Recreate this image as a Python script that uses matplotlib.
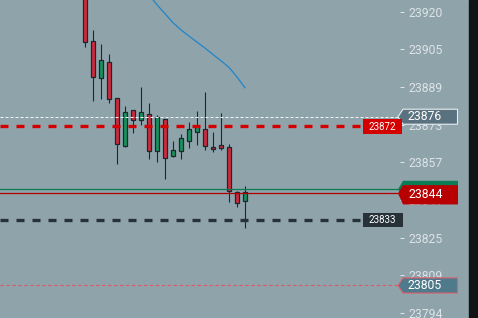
import numpy as np
import matplotlib
matplotlib.use('Agg')
import matplotlib.pyplot as plt
from matplotlib.patches import Polygon
import matplotlib.transforms as mtransforms

plt.rcParams['lines.scale_dashes'] = False
plt.rcParams['font.family'] = ['Roboto', 'DejaVu Sans']

# ---- data ----
opens  = [23935.0, 23907.6, 23892.4, 23898.8, 23883.8, 23863.7, 23878.8, 23874.6, 23877.1, 23861.6, 23875.0,
          23859.5, 23861.6, 23865.8, 23869.6, 23870.8, 23863.3, 23864.1, 23863.3, 23844.5, 23840.7]
highs  = [23937.0, 23912.3, 23906.5, 23902.3, 23884.0, 23880.6, 23879.0, 23888.4, 23881.8, 23876.8, 23875.2,
          23865.9, 23868.7, 23873.9, 23878.5, 23886.4, 23869.6, 23877.6, 23864.5, 23844.9, 23847.1]
lows   = [23905.4, 23882.8, 23883.6, 23881.9, 23856.2, 23863.5, 23869.1, 23872.6, 23858.3, 23857.0, 23850.2,
          23859.1, 23858.3, 23863.1, 23864.1, 23862.0, 23861.2, 23862.0, 23840.3, 23838.2, 23829.4]
closes = [23907.2, 23892.6, 23899.7, 23883.4, 23864.5, 23877.9, 23874.6, 23877.9, 23861.6, 23875.8, 23858.7,
          23862.0, 23867.1, 23870.8, 23872.1, 23863.7, 23862.5, 23862.9, 23844.9, 23839.9, 23844.5]
ma_values = [np.nan] * 8 + [23927.0, 23922.9, 23919.2, 23915.4, 23912.4, 23909.8, 23907.3,
                            23904.8, 23902.1, 23899.5, 23896.7, 23892.7, 23888.2]

tick_values = [23920.0, 23904.25, 23888.5, 23872.75, 23857.0, 23841.25, 23825.5, 23809.75, 23794.0]
tick_labels = ['23920', '23905', '23889', '23873', '23857', '23841', '23825', '23809', '23794']

bid_price = 23844.0
ask_price = 23845.7
white_level = 23876.0
red_level = 23872.0
dark_level = 23833.0
low_level = 23805.5

# ---- figure ----
W, H = 478, 318
bg = '#8fa3ab'
fig = plt.figure(figsize=(W / 100, H / 100), dpi=100, facecolor=bg)
AX_RIGHT = 400
ax = fig.add_axes([0, 0, AX_RIGHT / W, 1])
ax.set_facecolor(bg)
for s in ax.spines.values():
    s.set_visible(False)

X0_PX, STEP_PX = 85, 8
ax.set_xlim(-X0_PX / STEP_PX, (AX_RIGHT - X0_PX) / STEP_PX)
ylo, yhi = 23791.9, 23924.9
ax.set_ylim(ylo, yhi)
ppu = H / (yhi - ylo)  # pixels per price unit

ax.set_xticks([])
ax.yaxis.tick_right()
ax.set_yticks(tick_values, tick_labels)
ax.tick_params(axis='y', direction='out', length=2.9, width=0.72, colors='#dde3e6',
               labelsize=8.8, pad=2.9)

x = np.arange(len(opens))
o = np.array(opens); c = np.array(closes); h = np.array(highs); l = np.array(lows)
up = c >= o
green, red = '#17935f', '#d02a3c'
dark = '#1d282e'
colors = np.where(up, green, red)

ax.vlines(x, l, h, color=dark, linewidth=0.8, zorder=2)
ax.bar(x, np.abs(c - o), bottom=np.minimum(o, c), width=0.55, color=colors,
       edgecolor=dark, linewidth=0.9, zorder=3)

ax.plot(x, ma_values, color='#1f86c8', linewidth=0.9, zorder=4)

# ---- horizontal levels ----
ax.axhline(white_level, xmin=0, xmax=398 / AX_RIGHT, color='#f2f4f5', lw=0.75,
           dashes=(2.2, 1.4), zorder=4)
ax.axhline(red_level, xmin=0, xmax=363 / AX_RIGHT, color='#d40000', lw=2.4,
           dashes=(5.76, 5.76), zorder=4)
ax.axhline(dark_level, xmin=0, xmax=363 / AX_RIGHT, color='#263238', lw=2.4,
           dashes=(5.76, 5.76), zorder=4)
ax.axhline(low_level, xmin=0, xmax=398 / AX_RIGHT, color='#e0566a', lw=0.8,
           dashes=(2.5, 1.8), zorder=4)
ax.axhline(ask_price, xmin=0, xmax=399 / AX_RIGHT, color='#0b7d55', lw=0.9, zorder=4)
ax.axhline(bid_price, xmin=0, xmax=399 / AX_RIGHT, color='#b00000', lw=0.9, zorder=4)

trans = mtransforms.blended_transform_factory(fig.transFigure, ax.transData)


def price_label(y, x0, x1, up_px, down_px, arrow_px, face, edge, text, fs, text_x=None, zorder=6):
    yt = y + up_px / ppu
    yb = y - down_px / ppu
    if arrow_px > 0:
        pts = [(x0 / W, y), ((x0 + arrow_px) / W, yt), (x1 / W, yt), (x1 / W, yb), ((x0 + arrow_px) / W, yb)]
    else:
        pts = [(x0 / W, yt), (x1 / W, yt), (x1 / W, yb), (x0 / W, yb)]
    poly = Polygon(pts, closed=True, facecolor=face, edgecolor=edge if edge else face,
                   linewidth=0.8 if edge else 0, transform=trans, clip_on=False, zorder=zorder)
    ax.add_patch(poly)
    if text:
        if text_x is None:
            ax.text((x0 + x1) / 2 / W, (yt + yb) / 2, text, transform=trans, ha='center', va='center',
                    color='white', fontsize=fs, clip_on=False, zorder=zorder + 1)
        else:
            ax.text(text_x / W, (yt + yb) / 2, text, transform=trans, ha='left', va='center',
                    color='white', fontsize=fs, clip_on=False, zorder=zorder + 1)


price_label(white_level, 398, 457.5, 7.7, 7.3, 5, '#5a7280', '#e8eef0', '23876', 8.8, text_x=407.5)
price_label(red_level, 362.7, 402, 7.2, 7.5, 0, '#d40000', None, '23872', 7.0)
price_label(ask_price, 398, 458, 8.6, 8.0, 5, '#0b7d55', None, '', 8.8)
price_label(bid_price, 398, 458, 8.3, 11.0, 5, '#b80000', None, '23844', 8.8, text_x=408.5, zorder=8)
price_label(dark_level, 362.7, 402.7, 7.0, 7.0, 0, '#263238', None, '23833', 7.0)
price_label(low_level, 398, 457.5, 7.6, 7.6, 5, '#4e7a8b', '#e0606e', '23805', 8.8, text_x=408)

# right dark strip
fig.add_artist(plt.Rectangle((469 / W, 0), 9 / W, 1, transform=fig.transFigure,
                             color='#111416', zorder=10))

fig.savefig('out.png', dpi=100, facecolor=bg)
